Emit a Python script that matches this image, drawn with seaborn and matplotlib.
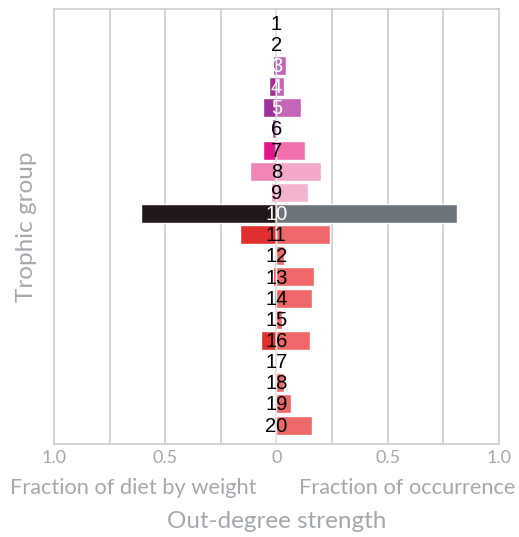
import numpy as np
import pandas as pd
import seaborn as sns
from matplotlib import pyplot as plt

groups = [str(i) for i in range(1, 21)]
diet_weight = [0, 0, 0.013, 0.035, 0.062, 0.02, 0.062, 0.12, 0.026, 0.607,
               0.162, 0, 0.017, 0.009, 0, 0.069, 0, 0, 0, 0]
occurrence = [0, 0, 0.044, 0.033, 0.11, 0, 0.13, 0.20, 0.144, 0.81,
              0.24, 0.033, 0.168, 0.162, 0.024, 0.15, 0, 0.033, 0.068, 0.16]
left_colors = ["#a0309a", "#a0309a", "#a0309a", "#a0309a", "#a0309a", "#b04aa8",
               "#e0188c", "#ee85b5", "#f0a2c2", "#231819"] + ["#e03030"] * 10
right_colors = ["#c465b8", "#c465b8", "#c465b8", "#c465b8", "#c465b8", "#c465b8",
                "#f070ac", "#f3a8c9", "#f4b4cf", "#6d757b"] + ["#ee6868"] * 10
white_labels = ["3", "4", "5", "10"]

grey = "#a3a8ad"
grid_grey = "#c8ccd0"

df = pd.DataFrame({"group": groups,
                   "weight": -np.array(diet_weight),
                   "occurrence": occurrence})

sns.set_style("white")
plt.rcParams['font.family'] = ['Lato', 'DejaVu Sans']

fig = plt.figure(figsize=(5.19, 5.37), dpi=100)
ax = fig.add_axes([0.104, 0.173, 0.857, 0.81])

sns.barplot(data=df, x="weight", y="group", hue="group", palette=left_colors,
            orient="h", width=0.9, legend=False, ax=ax, saturation=1)
sns.barplot(data=df, x="occurrence", y="group", hue="group", palette=right_colors,
            orient="h", width=0.9, legend=False, ax=ax, saturation=1)

ax.set_xlim(-1, 1)
ax.set_ylim(19.9, -0.66)
for g in np.arange(-0.75, 1.0, 0.25):
    ax.axvline(g, color=grid_grey, lw=1.2, zorder=0 if g != 0 else 5, alpha=1 if g != 0 else 0.6)

for i, g in enumerate(groups):
    ax.text(0, i + 0.05, g, ha="center", va="center", fontsize=14.5,
            family=["Liberation Sans", "DejaVu Sans"],
            color="white" if g in white_labels else "black", zorder=6)

ax.set_yticks([])
ax.set_xticks([-1, -0.5, 0, 0.5, 1])
ax.set_xticklabels(["1.0", "0.5", "0", "0.5", "1.0"])
ax.tick_params(axis="x", length=0, labelsize=13, labelcolor=grey, pad=4)
ax.set_xlabel("")
ax.set_ylabel("Trophic group", fontsize=17.5, color=grey, labelpad=12)
for s in ax.spines.values():
    s.set_color(grid_grey)
    s.set_linewidth(1.2)

fig.text(133 / 519, 1 - 488 / 537, "Fraction of diet by weight", ha="center", va="center",
         fontsize=15.7, color=grey)
fig.text(407 / 519, 1 - 488 / 537, "Fraction of occurrence", ha="center", va="center",
         fontsize=15.7, color=grey)
fig.text(277 / 519, 1 - 522 / 537, "Out-degree strength", ha="center", va="center",
         fontsize=17.5, color=grey)

fig.savefig("out.png", dpi=100)
